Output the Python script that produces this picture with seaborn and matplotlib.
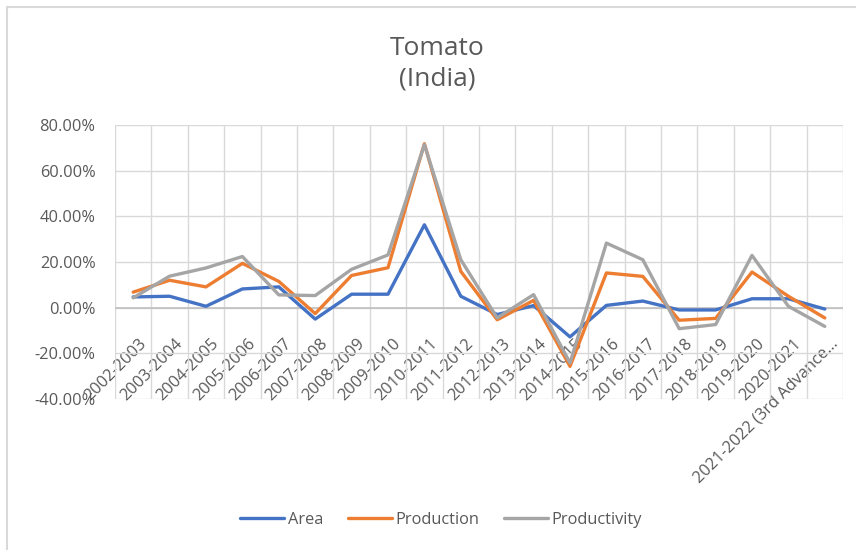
import numpy as np
import pandas as pd
import matplotlib
matplotlib.use("Agg")
import matplotlib.pyplot as plt
import seaborn as sns
from matplotlib.patches import Rectangle
from matplotlib.transforms import ScaledTranslation

# Data (year-on-year change, %)
years = ['2002-2003', '2003-2004', '2004-2005', '2005-2006', '2006-2007',
         '2007-2008', '2008-2009', '2009-2010', '2010-2011', '2011-2012',
         '2012-2013', '2013-2014', '2014-2015', '2015-2016', '2016-2017',
         '2017-2018', '2018-2019', '2019-2020', '2020-2021',
         '2021-2022 (3rd Advance\u2026']
area = [4.7, 5.0, 0.6, 8.2, 9.1, -5.0, 5.9, 5.9, 36.3, 5.0,
        -3.0, 0.9, -12.8, 1.0, 2.9, -1.0, -1.0, 3.9, 3.9, -0.6]
production = [6.8, 12.0, 9.1, 19.4, 11.5, -2.6, 14.1, 17.5, 71.8, 15.9,
              -5.3, 3.2, -25.7, 15.2, 13.7, -5.5, -4.7, 15.6, 5.0, -4.5]
productivity = [4.3, 13.8, 17.4, 22.4, 5.6, 5.3, 16.8, 23.1, 71.4, 21.0,
                -4.5, 5.7, -24.2, 28.3, 21.0, -9.2, -7.4, 22.9, 0.6, -8.2]

df = pd.DataFrame({'Year': years, 'Area': area,
                   'Production': production, 'Productivity': productivity})
long_df = df.melt(id_vars='Year', var_name='Series', value_name='Change')

palette = {'Area': '#4472C4', 'Production': '#ED7D31', 'Productivity': '#A5A5A5'}
text_col = '#595959'
fs = 11.8

sns.set_style('white')
plt.rcParams['font.family'] = ['Open Sans', 'DejaVu Sans']

fig = plt.figure(figsize=(8.56, 5.5), dpi=100)
ax = fig.add_axes([115 / 856, 1 - 399 / 550, (843 - 115) / 856, (399 - 125) / 550])

sns.lineplot(data=long_df, x='Year', y='Change', hue='Series', palette=palette,
             linewidth=2.4, sort=False, ax=ax, legend=False)

n = len(years)
ax.set_xlim(-0.5, n - 0.5)
ax.set_ylim(-40, 80)
ax.set_yticks(np.arange(-40, 81, 20))
ax.set_yticklabels([f'{v:.2f}%' for v in np.arange(-40, 81, 20)],
                   color=text_col, fontsize=fs)
ax.set_xticks(range(n))
ax.set_xticks(np.arange(-0.5, n, 1), minor=True)
ax.tick_params(axis='both', which='both', length=0)
ax.tick_params(axis='y', pad=14)
ax.tick_params(axis='x', which='major', pad=20)
ax.grid(axis='y', which='major', color='#D9D9D9', linewidth=1)
ax.grid(axis='x', which='minor', color='#D9D9D9', linewidth=1)
ax.axhline(0, color='#BFBFBF', linewidth=1.2, zorder=1)
for s in ax.spines.values():
    s.set_visible(False)
# category labels sit under the zero line, like Excel
ax.spines['bottom'].set_position(('data', 0))
ax.set_xticklabels(years, rotation=45, ha='right', va='top',
                   rotation_mode='anchor', color=text_col, fontsize=fs)
shift = ScaledTranslation(5 / 100, 0, fig.dpi_scale_trans)
for lab in ax.get_xticklabels():
    lab.set_transform(lab.get_transform() + shift)
ax.set_xlabel('')
ax.set_ylabel('')

fig.text(437 / 856, 1 - 64 / 550, 'Tomato\n(India)', ha='center', va='center',
         fontsize=19, color=text_col, linespacing=1.3)

handles = [plt.Line2D([], [], color=palette[k], linewidth=2.4) for k in palette]
fig.legend(handles, list(palette), loc='center', bbox_to_anchor=(441 / 856, 1 - 520 / 550),
           ncol=3, frameon=False, fontsize=fs, labelcolor=text_col,
           handlelength=2.7, handletextpad=0.2, columnspacing=1.5)

# chart frame (only left/top edges visible in the reference)
fig.patches.append(Rectangle((7 / 856, -0.1), 1.1, 1 - 7 / 550 + 0.1,
                             transform=fig.transFigure, fill=False,
                             edgecolor='#D9D9D9', linewidth=1.5))

fig.savefig('out.png', dpi=100)
